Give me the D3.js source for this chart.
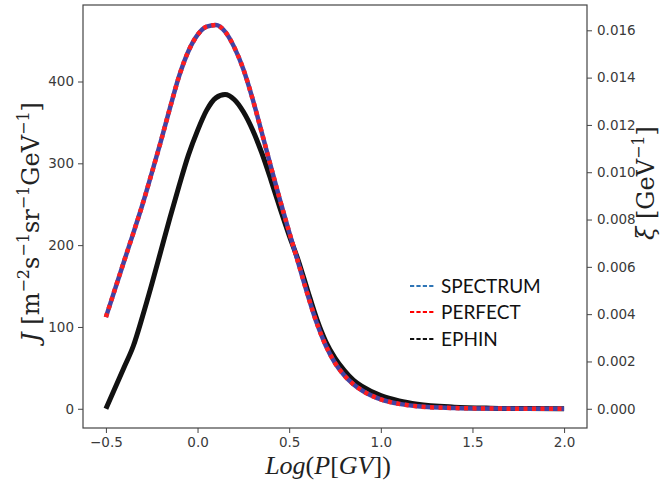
<!DOCTYPE html>
<html><head><meta charset="utf-8">
<script src="https://cdn.jsdelivr.net/npm/d3@7"></script>
<style>body{margin:0;background:#fff}svg{display:block}</style>
</head><body>
<svg id="c" width="668" height="486"></svg>
<script>
const logP = [-0.5,-0.4,-0.35,-0.3,-0.25,-0.2,-0.15,-0.1,-0.05,0.0,0.05,0.1,0.15,0.2,0.25,0.3,0.35,0.4,0.45,0.5,0.55,0.6,0.65,0.7,0.75,0.8,0.85,0.9,1.0,1.1,1.2,1.4,1.6,1.8,2.0];
const spectrum = [112,181,215,250,288,327,368,407,437,457,467,469,461,442,415,379,338,296,255,216,178,140,105,77,56,41,30,22,11.5,6,3,0.9,0.3,0.08,0];
const perfect  = [112,181,215,250,288,327,368,407,437,457,467,469,461,442,415,379,338,296,255,216,178,140,105,77,56,41,30,22,11.5,6,3,0.9,0.3,0.08,0];
const ephin    = [0,51,77,113,152,193,234,273,310,340,365,380,384,378,363,341,313,280,245,212,181,145,110,82,62,47,35,27,16,9.5,5.5,2,0.7,0.25,0];
const xTicks = [-0.5,0.0,0.5,1.0,1.5,2.0];
const yTicks = [0,100,200,300,400];
const y2Ticks = [0.000,0.002,0.004,0.006,0.008,0.010,0.012,0.014,0.016];
const legendNames = ["SPECTRUM","PERFECT","EPHIN"];
const legendColors = ["#2e75b6","#ff0000","#111111"];

const L=83,R=587,T=5,B=428;
const svg=d3.select("#c");
const x=d3.scaleLinear().domain([-0.625,2.125]).range([L,R]);
const y=d3.scaleLinear().domain([-23.5,493.5]).range([B,T]);
const y2=d3.scaleLinear().domain([-0.000813,0.01707]).range([B,T]);

const tickFont="DejaVu Sans, sans-serif";
function styleAxis(g){
  g.selectAll(".domain").remove();
  g.selectAll(".tick line").attr("stroke","#444").attr("stroke-width",1);
  g.selectAll(".tick text").attr("fill","#3a3a3a").style("font-family",tickFont).style("font-size","13.5px");
}
svg.append("g").attr("transform",`translate(0,${B})`)
  .call(d3.axisBottom(x).tickValues(xTicks).tickSize(5).tickPadding(4).tickFormat(d=>d3.format(".1f")(d).replace("-","−")))
  .call(styleAxis);
svg.append("g").attr("transform",`translate(${L},0)`)
  .call(d3.axisLeft(y).tickValues(yTicks).tickSize(5).tickPadding(4).tickFormat(d3.format("d")))
  .call(styleAxis);
svg.append("g").attr("transform",`translate(${R},0)`)
  .call(d3.axisRight(y2).tickValues(y2Ticks).tickSize(5).tickPadding(5).tickFormat(d3.format(".3f")))
  .call(styleAxis);

svg.append("rect").attr("x",L).attr("y",T).attr("width",R-L).attr("height",B-T)
  .attr("fill","none").attr("stroke","#444").attr("stroke-width",1.2);

const line=d3.line().x((d,i)=>x(logP[i])).y(d=>y(d)).curve(d3.curveMonotoneX);
svg.append("path").attr("d",line(ephin)).attr("fill","none").attr("stroke","#111").attr("stroke-width",5).attr("stroke-linecap","butt");
svg.append("path").attr("d",line(spectrum)).attr("fill","none").attr("stroke","#4343a3").attr("stroke-width",4.5);
svg.append("path").attr("d",line(perfect)).attr("fill","none").attr("stroke","#ff1e1e").attr("stroke-width",4.5).attr("stroke-dasharray","4,4.5");

// legend
const lg=svg.append("g");
legendNames.forEach((n,i)=>{
  const yy=[286,312,339][i];
  lg.append("line").attr("x1",410).attr("x2",435).attr("y1",yy).attr("y2",yy)
    .attr("stroke",legendColors[i]).attr("stroke-width",1.8).attr("stroke-dasharray","4.2,2.2");
  lg.append("text").attr("x",441).attr("y",yy+7).text(n)
    .style("font-family","Lato, sans-serif").style("font-size","19px").attr("fill","#111");
});

// x label
const xl=svg.append("text").attr("x",328).attr("y",474).attr("text-anchor","middle")
  .style("font-family","'Liberation Serif', serif").style("font-size","26px").attr("fill","#222");
xl.append("tspan").style("font-style","italic").text("Log");
xl.append("tspan").text("(");
xl.append("tspan").style("font-style","italic").text("P");
xl.append("tspan").text("[");
xl.append("tspan").style("font-style","italic").text("GV");
xl.append("tspan").text("])");

// left y label
const yl=svg.append("text").attr("transform","translate(39,222) rotate(-90)").attr("text-anchor","middle")
  .style("font-family","'DejaVu Serif', serif").style("font-size","24px").attr("fill","#222");
function sup(t,txt){ t.append("tspan").attr("dy",-10).style("font-size","16px").text(txt); }
function down(t,txt){ t.append("tspan").attr("dy",10).text(txt); }
yl.append("tspan").style("font-style","italic").text("J");
yl.append("tspan").text(" [m");
sup(yl,"−2"); down(yl,"s"); sup(yl,"−1"); down(yl,"sr"); sup(yl,"−1"); down(yl,"GeV"); sup(yl,"−1"); down(yl,"]");

// right y label
const rl=svg.append("text").attr("transform","translate(654,183) rotate(-90)").attr("text-anchor","middle")
  .style("font-family","'DejaVu Serif', serif").style("font-size","24px").attr("fill","#222");
rl.append("tspan").style("font-style","italic").text("ξ");
rl.append("tspan").text(" [GeV");
sup(rl,"−1"); down(rl,"]");
</script>
</body></html>
